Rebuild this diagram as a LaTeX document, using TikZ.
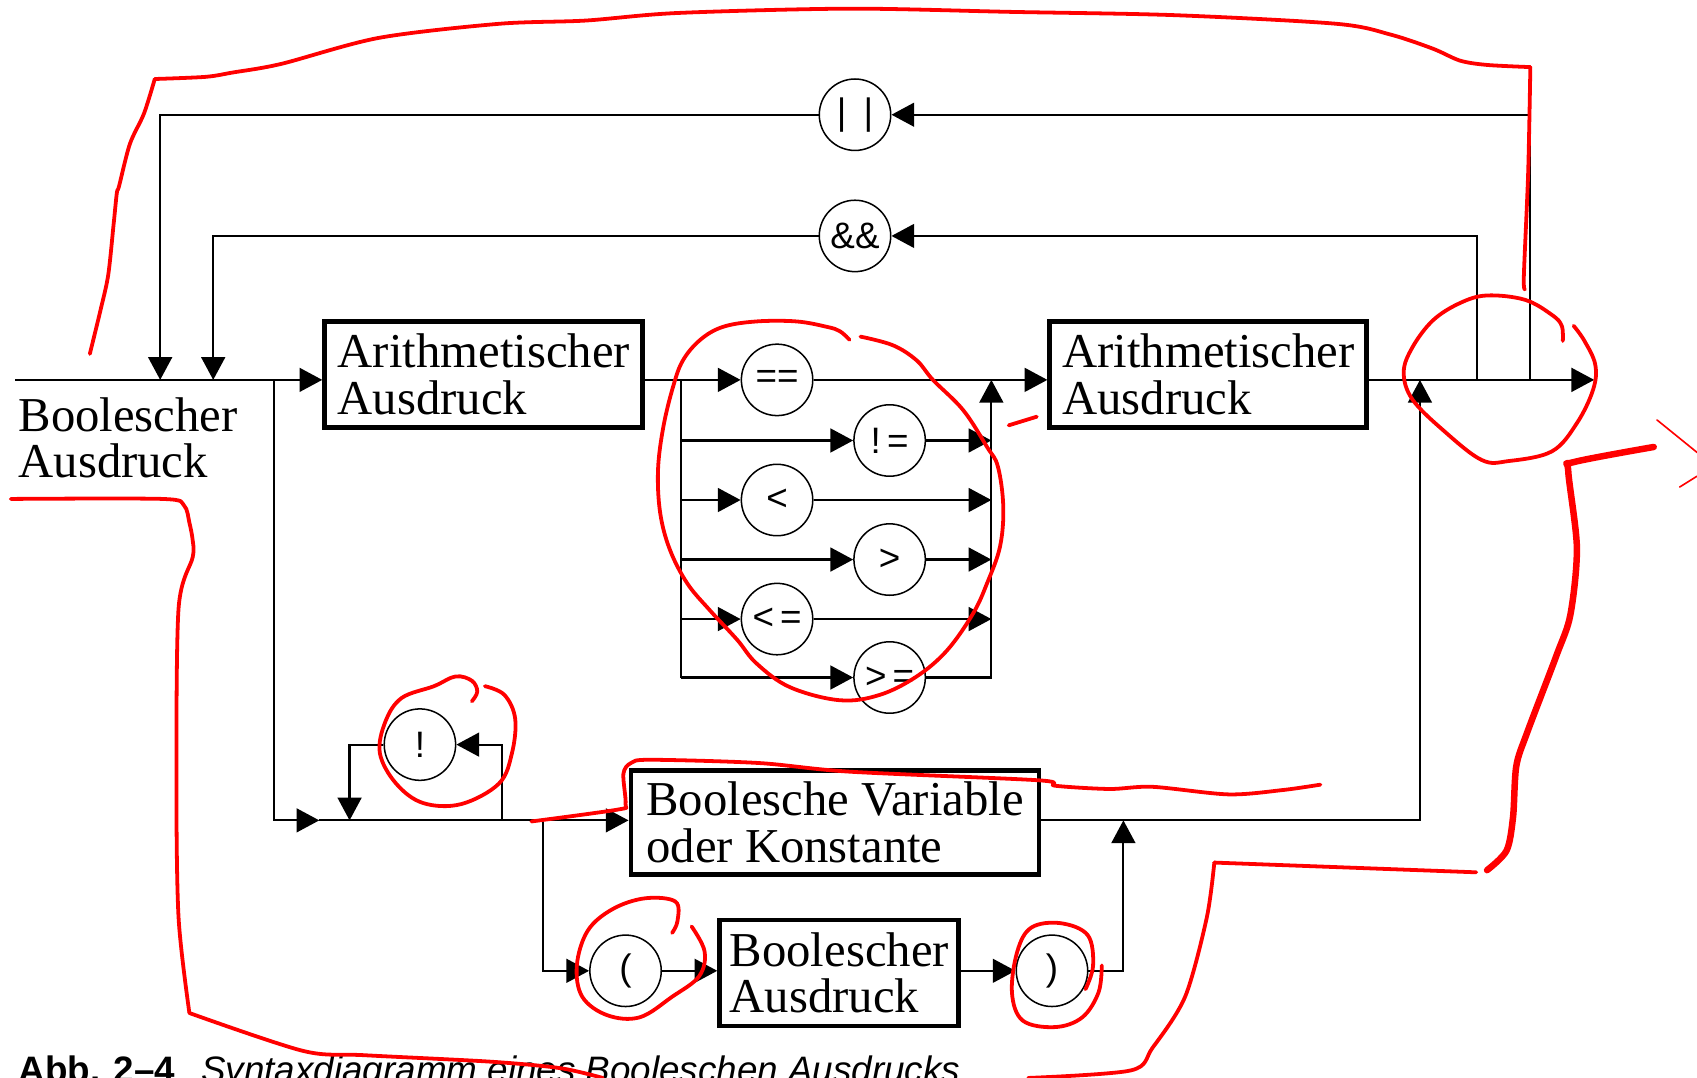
\documentclass[tikz,border=0pt]{standalone}
\usepackage{fontspec}
\setmainfont{Liberation Serif}
\newfontfamily\opfamily{Liberation Sans}
\usetikzlibrary{arrows.meta}

\newcommand{\boxfont}{\fontsize{45}{43}\selectfont}
\newcommand{\opfont}{\opfamily\fontsize{34}{34}\selectfont}

\begin{document}
\begin{tikzpicture}[x=1pt, y=-1pt,
    wire/.style={line width=2pt},
    arr/.style={line width=2pt, -{Triangle[length=21pt,width=22pt]}},
    symbox/.style={draw, line width=4.5pt, inner sep=0pt, minimum height=98pt, align=left, font=\boxfont},
    op/.style={circle, draw, line width=1.4pt, minimum size=66pt, inner sep=0pt, font=\opfont},
    annot/.style={red, line width=3.5pt, line cap=round, line join=round}]

    \fill[white] (0,0) rectangle (1568,996);
    \useasboundingbox (0,0) rectangle (1568,996);
    \clip (0,0) rectangle (1568,996);

    % junctions on the main line
    \coordinate (in) at (14,351);
    \coordinate (j1) at (148,351);
    \coordinate (j2) at (197,351);
    \coordinate (j3) at (253,351);
    \coordinate (c1) at (629,351);
    \coordinate (c2) at (916,351);
    \coordinate (k1) at (1312,351);
    \coordinate (k2) at (1365,351);
    \coordinate (k3) at (1414,351);
    \coordinate (out) at (1473,351);

    % junctions on the lower line
    \coordinate (m0) at (295,758);
    \coordinate (m1) at (323,758);
    \coordinate (m2) at (464,758);
    \coordinate (m3) at (502,758);
    \coordinate (m4) at (1038,758);

    \node[font=\boxfont, align=left, anchor=north west, inner sep=0pt] (label) at (17,367) {Boolescher\\Ausdruck};

    \node[symbox, minimum width=294pt] (arith1) at (447,346) {Arithmetischer\\Ausdruck};
    \node[symbox, minimum width=293pt] (arith2) at (1116.5,346) {Arithmetischer\\Ausdruck};
    \node[symbox, minimum width=377pt, minimum height=96pt] (var) at (771.5,760) {Boolesche Variable\\oder Konstante};
    \node[symbox, minimum width=221pt] (bexp) at (775.5,899) {Boolescher\\Ausdruck};

    \node[op] (or) at (790,106) {|\hspace{16pt}|};
    \node[op] (and) at (790,218) {\&\&};
    \node[op] (eq) at (718,351) {==};
    \node[op] (ne) at (822,407) {!\,=};
    \node[op] (lt) at (718,462) {<};
    \node[op] (gt) at (822,517) {>};
    \node[op] (le) at (718,572) {<\,=};
    \node[op] (ge) at (822,626) {>\,=};
    \node[op] (not) at (388,688) {!};
    \node[op] (lpar) at (578,897) {(};
    \node[op] (rpar) at (972,897) {)};

    % main line
    \draw[wire] (in) -- (j3);
    \draw[arr] (j3) -- (arith1.west |- j3);
    \draw[arr] (arith1.east |- c1) -- (eq.west);
    \draw[arr] (eq.east) -- (arith2.west |- c2);
    \draw[arr] (arith2.east |- k1) -- (out);

    % loops back
    \draw[arr] (k3) |- (or.east);
    \draw[arr] (or.west) -| (j1);
    \draw[arr] (k2) |- (and.east);
    \draw[arr] (and.west) -| (j2);

    % comparison operators
    \draw[wire] (c1) -- (c1 |- ge);
    \draw[arr] (c1 |- ne) -- (ne.west);
    \draw[arr] (ne.east) -- (c2 |- ne);
    \draw[arr] (c1 |- lt) -- (lt.west);
    \draw[arr] (lt.east) -- (c2 |- lt);
    \draw[arr] (c1 |- gt) -- (gt.west);
    \draw[arr] (gt.east) -- (c2 |- gt);
    \draw[arr] (c1 |- le) -- (le.west);
    \draw[arr] (le.east) -- (c2 |- le);
    \draw[arr] (c1 |- ge) -- (ge.west);
    \draw[arr] (ge.east) -| (c2);

    % lower path
    \draw[arr] (j3) |- (m0);
    \draw[arr] (m0) -- (var.west |- m0);
    \draw[arr] (m2) |- (not.east);
    \draw[arr] (not.west) -| (m1);
    \draw[arr] (m3) |- (lpar.west);
    \draw[arr] (lpar.east) -- (bexp.west |- lpar);
    \draw[arr] (bexp.east |- rpar) -- (rpar.west);
    \draw[arr] (rpar.east) -| (m4);
    \draw[arr] (var.east |- m4) -| (k1);

    \node[anchor=base west, inner sep=0pt, font=\opfamily\fontsize{34}{34}\selectfont] (caption) at (17,1000)
        {\textbf{Abb. 2–4}\hspace{24pt}\textit{Syntaxdiagramm eines Booleschen Ausdrucks}};

    % red marks
    \draw[annot] plot[smooth, tension=0.5] coordinates {(83,327) (93,286) (100,254) (105,207) (108,178) (110,172) (120,133) (133,105) (143,73)};
    \draw[annot] plot[smooth, tension=0.5] coordinates {(143,73) (190,71) (215,67) (260,59) (350,35) (461,22) (541,19) (626,12) (785,8) (935,11) (1085,14) (1235,22) (1285,32) (1324,45) (1349,56) (1374,60) (1414,62)};
    \draw[annot] plot[smooth, tension=0.5] coordinates {(1414,62) (1412,159) (1408,255) (1409,267)};
    \draw[annot] plot[smooth, tension=0.6] coordinates {(785,314) (776,306) (764,302) (736,297) (699,297) (668,302) (647,314) (631,333) (622,357) (613,394) (608,434) (610,474) (619,508) (635,539) (656,564) (681,591) (699,613) (730,635) (776,647) (813,642) (847,625) (875,601) (899,567) (912,539) (924,505) (927,468) (922,431) (912,413) (890,379) (862,351) (847,333) (825,319) (795,311)};
    \draw[annot] (932,393) -- (958,385);
    \draw[annot] plot[smooth, tension=0.6] coordinates {(1444,315) (1443,301) (1434,291) (1409,277) (1374,273) (1349,280) (1324,296) (1305,321) (1297,344) (1305,369) (1334,398) (1369,425) (1394,426) (1434,417) (1457,391) (1472,360) (1474,337) (1464,315) (1454,301)};
    \draw[annot, line width=6pt] plot[smooth, tension=0.5] coordinates {(1528,413) (1454,427) (1449,435) (1457,506) (1451,568) (1438,606) (1411,677) (1401,708) (1398,755) (1392,786) (1374,804)};
    \draw[annot, line width=1.5pt] (1531,388) -- (1568,418);
    \draw[annot, line width=1.5pt] (1552,450) -- (1568,440);
    \draw[annot] plot[smooth, tension=0.5] coordinates {(10,461) (150,461) (170,467) (175,483) (178,499) (178,515) (165,562) (163,721) (165,848) (175,936)};
    \draw[annot] plot[smooth, tension=0.5] coordinates {(175,936) (280,971) (337,975) (454,981) (518,987) (557,996)};
    \draw[annot] plot[smooth, tension=0.5] coordinates {(950,996) (1045,989) (1065,968) (1095,921) (1115,848) (1122,797)};
    \draw[annot] (1122,797) -- (1364,806);
    \draw[annot] plot[smooth, tension=0.5] coordinates {(491,759) (571,748) (578,743) (576,715) (583,705) (601,702) (701,705) (785,713) (960,721) (975,726) (1025,729) (1065,727) (1135,734) (1185,730) (1220,725)};
    \draw[annot] plot[smooth, tension=0.6] coordinates {(436,648) (441,639) (436,629) (421,625) (401,634) (371,645) (356,667) (351,696) (366,724) (391,742) (426,743) (461,724) (473,696) (476,664) (466,642) (448,634)};
    \draw[annot] plot[smooth, tension=0.6] coordinates {(621,862) (626,851) (624,833) (596,830) (566,840) (543,860) (533,892) (538,921) (561,938) (591,940) (621,921) (646,902) (651,879) (639,856)};
    \draw[annot] plot[smooth, tension=0.6] coordinates {(1003,914) (1010,892) (1005,864) (980,853) (953,857) (940,879) (935,917) (945,943) (975,949) (1000,940) (1015,917) (1018,892)};
\end{tikzpicture}
\end{document}
